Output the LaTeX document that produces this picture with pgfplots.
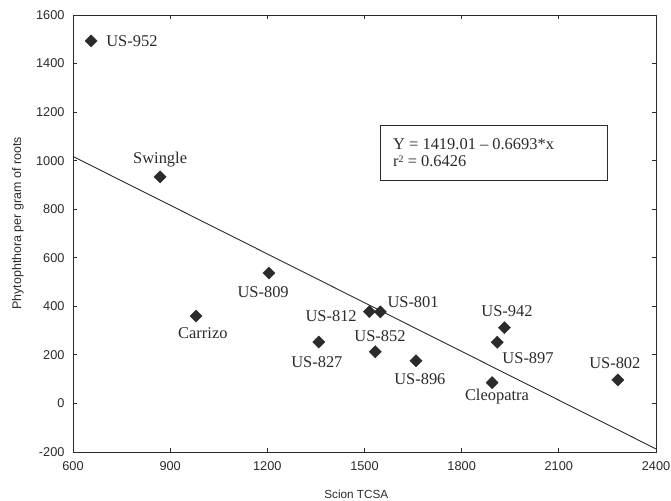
\documentclass[border=0pt]{standalone}
\usepackage{pgfplots}
\pgfplotsset{compat=1.18}
\usepackage{fontspec}
\setmainfont{Liberation Serif}
\newfontfamily\arial{Liberation Sans}
\usetikzlibrary{calc}
\definecolor{ink}{HTML}{2B2B2B}
\begin{document}
\begin{tikzpicture}
\begin{axis}[
  scale only axis,
  width=583bp, height=437bp,
  xmin=600, xmax=2400, ymin=-200, ymax=1600,
  xtick={600,900,...,2400},
  ytick={-200,0,...,1600},
  tick align=inside,
  major tick length=4bp,
  axis line style={ink, line width=0.9bp},
  every tick/.style={ink, line width=0.8bp},
  /pgf/number format/assume math mode=true,
  /pgf/number format/1000 sep={},
  tick label style={font=\arial\fontsize{12.8}{14}\selectfont, text=ink},
  xticklabel style={yshift=-6bp},
  yticklabel style={xshift=-5bp},
  xlabel={Scion TCSA},
  ylabel={Phytophthora per gram of roots},
  xlabel style={font=\arial\fontsize{11.8}{13}\selectfont, text=ink, at={(axis description cs:0.486,-0.0961)}, anchor=center},
  ylabel style={font=\arial\fontsize{12.5}{14}\selectfont, text=ink, at={(axis description cs:-0.0943,0.523)}, anchor=center},
  clip=false,
]
% regression line
\addplot[ink, line width=0.9bp, no marks] coordinates {(600,1017.4) (2400,-187.3)};
% data points
\addplot[only marks, mark=square*, mark size=4.3bp, mark options={rotate=45, fill=ink, draw=ink}] coordinates {
(656,1493)
(869,933)
(1205,537)
(980,360)
(1359,253)
(1515,378)
(1549,377)
(1533,213)
(1659,176)
(1932,312)
(1910,252)
(1894,86)
(2282,97)
};
\coordinate (sw) at (rel axis cs:0,0);
\coordinate (ne) at (rel axis cs:1,1);
% point labels
\begin{scope}[every node/.style={font=\fontsize{16.5}{18}\selectfont, text=ink, anchor=center, inner sep=0pt}]
\node at (axis cs:782,1493) {US-952};
\node at (axis cs:869,1003) {Swingle};
\node at (axis cs:1187,459) {US-809};
\node at (axis cs:1001,290) {Carrizo};
\node at (axis cs:1353,171) {US-827};
\node at (axis cs:1397,360) {US-812};
\node at (axis cs:1650,418) {US-801};
\node at (axis cs:1548,278) {US-852};
\node at (axis cs:1671,101) {US-896};
\node at (axis cs:1940,381) {US-942};
\node at (axis cs:2005,187) {US-897};
\node at (axis cs:1909,27) {Cleopatra};
\node at (axis cs:2273,167) {US-802};
\end{scope}
% equation box
\draw[ink, line width=1bp] (axis cs:1550,1143) rectangle (axis cs:2249,920);
\node[anchor=west, align=left, inner sep=0pt, text=ink, font=\fontsize{16.5}{17.5}\selectfont] at (axis cs:1588,1032) {Y = 1419.01 -- 0.6693*x\\r\raisebox{0.3em}{\fontsize{10}{10}\selectfont 2} = 0.6426};
\end{axis}
\pgfresetboundingbox
\path ($(sw)+(-73bp,-49bp)$) rectangle ($(ne)+(15bp,15bp)$);
\end{tikzpicture}
\end{document}
